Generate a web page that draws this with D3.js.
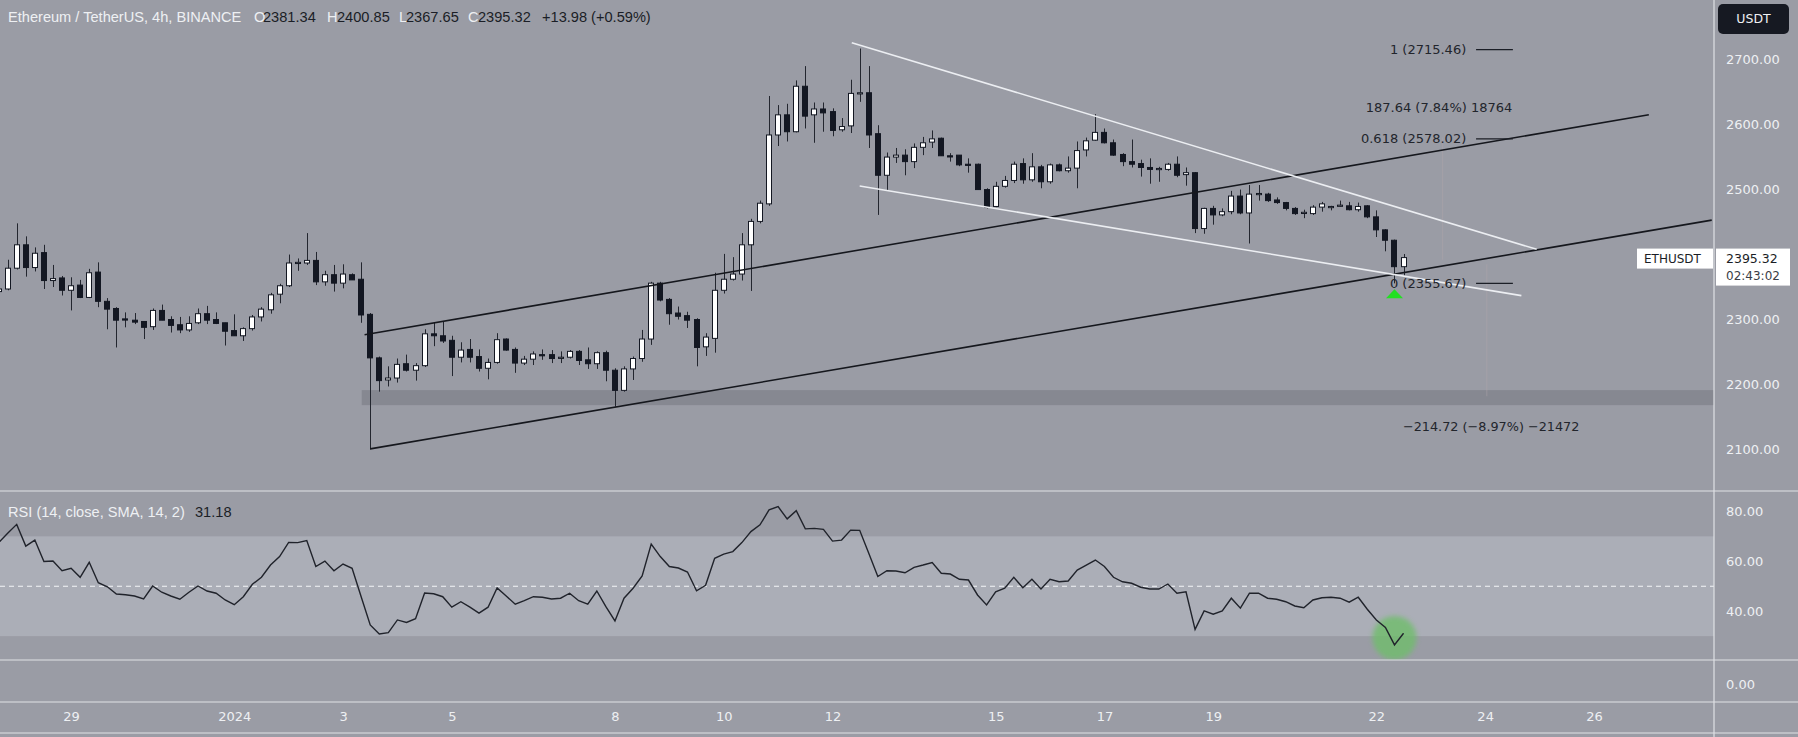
<!DOCTYPE html>
<html><head><meta charset="utf-8">
<script src="https://cdn.jsdelivr.net/npm/d3@7"></script>
<style>html,body{margin:0;padding:0;background:#9a9ca5;overflow:hidden}</style>
</head><body><svg id="c" width="1798" height="737"></svg>
<script>
// ---------- DATA ----------
const firstCandle = "2023-12-27T16:00:00Z"; // 4h candles
const open = [2343,2347,2379,2415,2380,2403,2360,2364,2345,2353,2334,2373,2328,2317,2301,2299,2297,2289,2314,2300,
2292,2284,2295,2309,2300,2295,2283,2275,2286,2304,2315,2339,2352,2387,2387,2391,2358,2369,2356,2369,
2362,2308,2241,2207,2210,2232,2222,2229,2278,2275,2268,2242,2254,2243,2225,2234,2270,2254,2233,2239,
2246,2246,2241,2242,2251,2238,2232,2249,2222,2191,2224,2240,2270,2356,2331,2310,2306,2300,2258,2271,
2345,2362,2370,2415,2451,2478,2584,2615,2589,2659,2615,2624,2620,2592,2598,2648,2649,2586,2522,2550,
2553,2543,2565,2573,2579,2552,2553,2539,2539,2500,2474,2505,2514,2540,2515,2535,2512,2538,2529,2533,
2561,2576,2588,2572,2554,2543,2540,2534,2532,2531,2539,2523,2526,2440,2471,2461,2466,2490,2464,2493,
2493,2484,2480,2471,2464,2463,2473,2474,2476,2475,2469,2475,2458,2438,2422,2381.34];
const high = [2350,2392,2448,2428,2411,2415,2384,2367,2365,2361,2378,2388,2333,2319,2311,2310,2297,2317,2323,2305,
2304,2305,2317,2321,2311,2295,2308,2288,2307,2319,2341,2355,2400,2394,2433,2404,2375,2384,2385,2371,
2388,2310,2243,2228,2240,2246,2233,2285,2295,2297,2275,2265,2270,2254,2240,2279,2271,2257,2244,2251,
2254,2253,2251,2253,2253,2257,2251,2252,2225,2228,2243,2284,2358,2358,2333,2320,2312,2302,2279,2372,
2401,2396,2433,2455,2483,2644,2630,2632,2668,2690,2634,2634,2625,2610,2669,2717,2690,2599,2557,2564,
2562,2571,2581,2591,2580,2556,2553,2548,2540,2502,2512,2521,2543,2548,2556,2538,2540,2540,2551,2574,
2580,2616,2594,2577,2556,2577,2546,2548,2535,2541,2551,2534,2527,2472,2475,2471,2498,2500,2507,2507,
2495,2488,2481,2473,2469,2476,2481,2475,2483,2481,2480,2476,2468,2439,2423,2400.85];
const low = [2340,2345,2377,2366,2374,2347,2350,2337,2314,2333,2333,2319,2285,2257,2288,2293,2270,2284,2299,2280,
2279,2281,2293,2293,2293,2260,2275,2267,2283,2297,2309,2325,2350,2375,2384,2353,2352,2343,2348,2361,
2295,2100,2189,2197,2203,2220,2206,2227,2259,2264,2213,2234,2234,2220,2208,2232,2252,2218,2230,2230,
2238,2233,2233,2240,2230,2224,2224,2205,2166,2189,2207,2235,2261,2328,2292,2300,2287,2228,2244,2249,
2340,2360,2360,2344,2448,2475,2567,2574,2588,2594,2572,2589,2582,2589,2587,2635,2564,2461,2499,2541,
2522,2533,2553,2564,2552,2543,2536,2526,2500,2471,2473,2503,2510,2509,2512,2502,2509,2528,2526,2502,
2551,2575,2571,2552,2536,2534,2520,2509,2512,2529,2519,2506,2433,2432,2446,2459,2462,2462,2417,2483,
2481,2478,2468,2461,2456,2461,2466,2468,2474,2468,2466,2456,2427,2405,2355.67,2367.65];
const close = [2347,2379,2415,2380,2402,2360,2363,2345,2352,2334,2372,2328,2316,2299,2300,2296,2288,2314,2299,2291,
2284,2294,2309,2299,2294,2282,2275,2286,2304,2316,2338,2352,2387,2388,2391,2358,2369,2356,2370,2361,
2307,2241,2206,2210,2231,2222,2229,2278,2275,2267,2242,2253,2242,2225,2234,2269,2253,2233,2239,2247,
2245,2240,2242,2251,2237,2232,2249,2222,2191,2224,2240,2270,2356,2330,2309,2305,2299,2257,2273,2345,
2362,2370,2415,2451,2479,2584,2615,2589,2659,2613,2624,2618,2591,2597,2648,2649,2584,2522,2550,2553,
2543,2565,2572,2578,2552,2551,2538,2538,2500,2473,2505,2514,2539,2515,2535,2512,2538,2529,2533,2560,
2575,2588,2572,2553,2543,2539,2534,2531,2532.5,2539,2522,2526,2440,2471,2461,2466,2490,2464,2493,2494,
2483,2480,2471,2463,2465,2473,2478,2474,2476,2469,2474,2458,2438,2422,2381.34,2395.32];
const rsi = [67.5,71.2,74.8,66.1,68.5,59.9,60.1,56.2,57.2,53.6,59.6,51.4,49.8,46.9,46.6,46.1,44.9,50.1,47.6,46.1,
44.8,47.6,50.1,48.1,47.2,44.5,42.6,45.8,50.8,53.6,58.5,61.9,67.6,67.5,68.3,57.9,60.1,56.2,58.9,57.2,
45.8,34.5,30.9,31.4,36.5,35.5,37.0,47.3,47.0,45.8,41.6,43.8,41.6,39.2,41.6,49.3,46.1,42.8,44.2,45.8,
45.6,44.9,45.2,47.2,44.2,42.8,48.1,41.8,36.1,45.2,49.2,54.1,66.9,61.9,57.9,57.3,55.7,48.2,50.4,61.2,
62.9,63.9,67.5,71.9,74.6,80.6,81.9,77.0,80.3,73.0,73.2,72.8,68.1,68.5,72.5,72.4,63.2,53.9,56.2,56.1,
55.4,57.6,58.5,59.5,55.2,54.9,52.8,52.5,46.5,42.5,47.8,49.2,53.6,49.4,52.8,48.9,52.8,51.8,52.1,56.5,
58.5,60.5,57.9,53.6,51.8,51.2,49.6,48.9,48.9,50.9,47.2,47.8,32.7,40.1,38.8,40.1,45.2,41.2,47.2,47.2,
45.2,44.8,43.8,42.1,41.4,44.5,45.4,45.6,45.2,43.6,45.6,40.8,36.5,33.5,26.5,31.18];

const priceTicks = [2100,2200,2300,2400,2500,2600,2700].filter(v=>v!==2400);
const rsiTicks = [40,60,80];
const dateTickDays = ["2023-12-29","2024-01-01","2024-01-03","2024-01-05","2024-01-08","2024-01-10","2024-01-12",
  "2024-01-15","2024-01-17","2024-01-19","2024-01-22","2024-01-24","2024-01-26"];
const dateTickLabels = ["29","2024","3","5","8","10","12","15","17","19","22","24","26"];

// drawings: [time, price] endpoints
const channelUpper = [["2024-01-03T09:30:00Z",2276.6],["2024-01-27T00:15:00Z",2615.2]];
const channelLower = [["2024-01-03T12:00:00Z",2101],["2024-01-28T04:00:00Z",2453]];
const wedgeUpper = [["2024-01-12T08:30:00Z",2726],["2024-01-24T22:45:00Z",2408]];
const wedgeLower = [["2024-01-12T12:00:00Z",2505.5],["2024-01-24T16:00:00Z",2336.8]];
const supportZone = {from:"2024-01-03T08:15:00Z", lo:2168.3, hi:2191.4};
const fibLevels = [1,0.618,0];
const fibPrices = [2715.46,2578.02,2355.67];
const fibLineFrom = "2024-01-23T20:00:00Z", fibLineTo = "2024-01-24T12:15:00Z", fibLabelEnd = "2024-01-23T15:40:00Z";
const rangeUp = {t:"2024-01-23T05:15:00Z", from:2392, to:2580, label:"187.64 (7.84%) 18764", labelT:"2024-01-24T12:00:00Z", labelP:2626.6};
const rangeDown = {t:"2024-01-24T00:45:00Z", from:2385, to:2182, label:"\u2212214.72 (\u22128.97%) \u221221472", labelT:"2024-01-22T11:45:00Z", labelP:2135};
const signalCandle = 154; // index of green triangle / circle
const signalRsi = 29.3;   // centre of the green circle
const header = {title:"Ethereum / TetherUS, 4h, BINANCE", o:"2381.34", h:"2400.85", l:"2367.65", c:"2395.32", chg:"+13.98 (+0.59%)"};

// ---------- LAYOUT ----------
const W=1798, H=737, plotR=1714;
const priceBot=491, rsiBot=660, miniBot=702, axisBot=733;
const BG="#9a9ca5", LIGHT="#eef0f3", DARK="#1b1e26";
const svg = d3.select("#c");
svg.append("rect").attr("width",W).attr("height",H).attr("fill",BG);

const H4 = 4*3600*1000;
const t0 = new Date(firstCandle).getTime();
const tOf = i => new Date(t0 + i*H4);
const x = d3.scaleUtc().domain([new Date("2023-12-29T00:00:00Z"), new Date("2024-01-26T00:00:00Z")]).range([71.1,1593.9]);
const y = d3.scaleLinear().domain([2100,2700]).range([449.5,59.6]);
const yr = d3.scaleLinear().domain([40,80]).range([611.2,511.4]);
const T = s => new Date(s);

const defs = svg.append("defs");
defs.append("clipPath").attr("id","cp").append("rect").attr("x",0).attr("y",0).attr("width",plotR).attr("height",priceBot);
defs.append("clipPath").attr("id","cr").append("rect").attr("x",0).attr("y",priceBot).attr("width",plotR).attr("height",rsiBot-priceBot);
const blur = defs.append("filter").attr("id","bl").attr("x","-50%").attr("y","-50%").attr("width","200%").attr("height","200%");
blur.append("feGaussianBlur").attr("stdDeviation",2.5);

// ---------- PRICE PANE ----------
const pp = svg.append("g").attr("clip-path","url(#cp)");
pp.append("rect").attr("x",x(T(supportZone.from))).attr("y",y(supportZone.hi))
  .attr("width",plotR-x(T(supportZone.from))).attr("height",y(supportZone.lo)-y(supportZone.hi))
  .attr("fill","#7f818b").attr("opacity",0.75);

// faint range tool verticals
[rangeUp,rangeDown].forEach(r=>{
  pp.append("line").attr("x1",x(T(r.t))).attr("x2",x(T(r.t))).attr("y1",y(r.from)).attr("y2",y(r.to))
    .attr("stroke","#b2a6ab").attr("stroke-width",1).attr("opacity",0.45);
});

const idx = d3.range(open.length);
const bw = 6;
const cg = pp.append("g");
cg.selectAll("line.w").data(idx).join("line").attr("class","w")
  .attr("x1",i=>Math.round(x(tOf(i)))+0.5).attr("x2",i=>Math.round(x(tOf(i)))+0.5)
  .attr("y1",i=>y(high[i])).attr("y2",i=>y(low[i]))
  .attr("stroke","#23262f").attr("stroke-width",1);
cg.selectAll("rect.b").data(idx).join("rect").attr("class","b")
  .attr("x",i=>Math.round(x(tOf(i)))-bw/2+0.5).attr("width",bw-1)
  .attr("y",i=>y(Math.max(open[i],close[i])))
  .attr("height",i=>Math.max(1.2,Math.abs(y(open[i])-y(close[i]))))
  .attr("fill",i=>close[i]>=open[i]?"#ffffff":"#131722")
  .attr("stroke","#131722").attr("stroke-width",1);

const ln = (pts,color,w)=>pp.append("line")
  .attr("x1",x(T(pts[0][0]))).attr("y1",y(pts[0][1]))
  .attr("x2",x(T(pts[1][0]))).attr("y2",y(pts[1][1]))
  .attr("stroke",color).attr("stroke-width",w);
ln(channelUpper,"#15171d",1.6);
ln(channelLower,"#15171d",1.6);
ln(wedgeUpper,"#eceef2",1.6);
ln(wedgeLower,"#eceef2",1.6);

// fib levels
fibLevels.forEach((lv,k)=>{
  const yy = y(fibPrices[k]);
  pp.append("line").attr("x1",x(T(fibLineFrom))).attr("x2",x(T(fibLineTo))).attr("y1",yy).attr("y2",yy)
    .attr("stroke","#1b1e26").attr("stroke-width",1.2);
  pp.append("text").attr("x",x(T(fibLabelEnd))).attr("y",yy).attr("dy","0.35em").attr("text-anchor","end")
    .attr("font-family","DejaVu Sans").attr("font-size",13).attr("fill","#22252c")
    .text(`${lv} (${fibPrices[k].toFixed(2)})`);
});
pp.append("text").attr("x",x(T(rangeUp.labelT))).attr("y",y(rangeUp.labelP)).attr("dy","0.35em").attr("text-anchor","end")
  .attr("font-family","DejaVu Sans").attr("font-size",13).attr("fill","#22252c").text(rangeUp.label);
pp.append("text").attr("x",x(T(rangeDown.labelT))).attr("y",y(rangeDown.labelP)).attr("dy","0.35em").attr("text-anchor","start")
  .attr("font-family","DejaVu Sans").attr("font-size",12.8).attr("fill","#22252c").text(rangeDown.label);

// green triangle under signal candle
{
  const cx = x(tOf(signalCandle)), ty = y(low[signalCandle]) + 6;
  pp.append("path").attr("d",`M${cx},${ty} L${cx+8.5},${ty+9} L${cx-8.5},${ty+9} Z`).attr("fill","#22e022");
}

// header
const HF = "Liberation Sans, Arial, sans-serif";
const hd = svg.append("text").attr("y",22).attr("font-family",HF).attr("font-size",14.6);
hd.append("tspan").attr("x",8).attr("fill",LIGHT).text(header.title);
[["O",header.o,254,263],["H",header.h,327,337],["L",header.l,399,406],["C",header.c,468,478]].forEach(([k,v,px,vx])=>{
  hd.append("tspan").attr("x",px).attr("fill",LIGHT).text(k);
  hd.append("tspan").attr("x",vx).attr("fill",DARK).text(v);
});
hd.append("tspan").attr("x",542).attr("fill",DARK).text(header.chg);

// ---------- RSI PANE ----------
const rp = svg.append("g").attr("clip-path","url(#cr)");
rp.append("rect").attr("x",0).attr("width",plotR).attr("y",yr(70)).attr("height",yr(30)-yr(70)).attr("fill","#abaeb7");
rp.append("line").attr("x1",0).attr("x2",plotR).attr("y1",yr(50)).attr("y2",yr(50))
  .attr("stroke","#f4f5f7").attr("stroke-width",1.2).attr("stroke-dasharray","5,4");
rp.append("ellipse").attr("cx",x(tOf(signalCandle))).attr("cy",yr(signalRsi)).attr("rx",22).attr("ry",22)
  .attr("fill","#70bd6c").attr("opacity",0.8).attr("filter","url(#bl)");
rp.append("path").datum(rsi)
  .attr("d",d3.line().x((d,i)=>x(tOf(i))).y(d=>yr(d)))
  .attr("fill","none").attr("stroke","#20232b").attr("stroke-width",1.4);
const rl = svg.append("text").attr("y",517).attr("font-family",HF).attr("font-size",14.6);
rl.append("tspan").attr("x",8).attr("fill",LIGHT).text("RSI (14, close, SMA, 14, 2)");
rl.append("tspan").attr("x",195).attr("fill",DARK).text(rsi[rsi.length-1].toFixed(2));

// ---------- SEPARATORS ----------
const sep = svg.append("g").attr("stroke","#dfe1e5").attr("stroke-width",1.2);
[priceBot,rsiBot,miniBot,axisBot].forEach(v=>sep.append("line").attr("x1",0).attr("x2",W).attr("y1",v).attr("y2",v));
sep.append("line").attr("x1",plotR).attr("x2",plotR).attr("y1",0).attr("y2",H);

// ---------- AXES ----------
const axStyle = g=>{g.select(".domain").remove();
  g.selectAll("text").attr("font-family","DejaVu Sans").attr("font-size",13).attr("fill",LIGHT);};
svg.append("g").attr("transform",`translate(${plotR},0)`)
  .call(d3.axisRight(y).tickValues(priceTicks).tickFormat(d3.format(".2f")).tickSize(0).tickPadding(12)).call(axStyle);
svg.append("g").attr("transform",`translate(${plotR},0)`)
  .call(d3.axisRight(yr).tickValues(rsiTicks).tickFormat(d3.format(".2f")).tickSize(0).tickPadding(12)).call(axStyle);
svg.append("text").attr("x",plotR+12).attr("y",(rsiBot+miniBot)/2+4).attr("dy","0.32em")
  .attr("font-family","DejaVu Sans").attr("font-size",13).attr("fill",LIGHT).text("0.00");
svg.append("g").attr("transform",`translate(0,${miniBot})`)
  .call(d3.axisBottom(x).tickValues(dateTickDays.map(T)).tickFormat((d,i)=>dateTickLabels[i]).tickSize(0).tickPadding(10))
  .call(axStyle);

// USDT badge
svg.append("rect").attr("x",1718).attr("y",4).attr("width",71).attr("height",30).attr("rx",5).attr("fill","#161922");
svg.append("text").attr("x",1753.5).attr("y",19).attr("dy","0.35em").attr("text-anchor","middle")
  .attr("font-family","DejaVu Sans").attr("font-size",12.5).attr("fill","#f0f1f3").text("USDT");

// last price labels
const lp = close[close.length-1];
svg.append("rect").attr("x",1637).attr("y",y(lp)-9).attr("width",76).attr("height",20).attr("fill","#ffffff");
svg.append("text").attr("x",1644).attr("y",y(lp)+1).attr("dy","0.35em")
  .attr("font-family","DejaVu Sans").attr("font-size",12).attr("fill",DARK).text("ETHUSDT");
svg.append("rect").attr("x",1716).attr("y",y(lp)-9).attr("width",74).attr("height",37).attr("fill","#ffffff");
svg.append("text").attr("x",1726).attr("y",y(lp)+1).attr("dy","0.35em")
  .attr("font-family","DejaVu Sans").attr("font-size",12.5).attr("fill",DARK).text(lp.toFixed(2));
svg.append("text").attr("x",1726).attr("y",y(lp)+18).attr("dy","0.35em")
  .attr("font-family","DejaVu Sans").attr("font-size",12).attr("fill","#3a3d45").text("02:43:02");
</script></body></html>
